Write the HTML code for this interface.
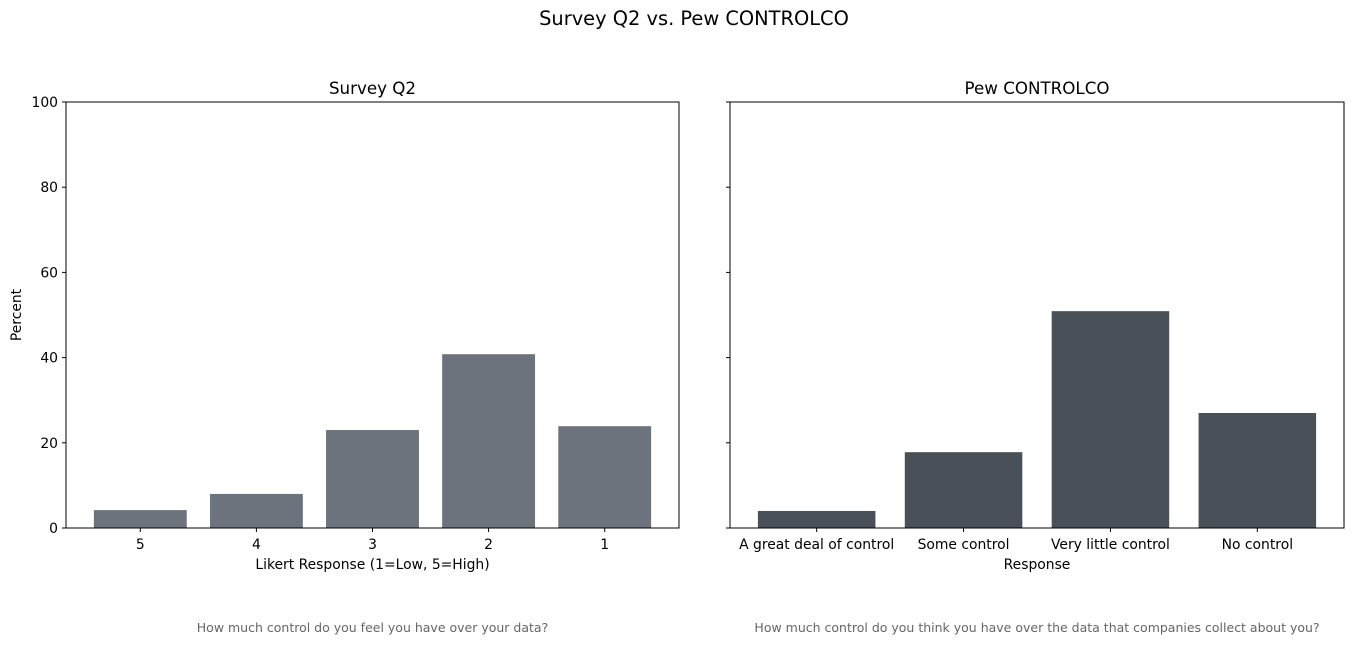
<!DOCTYPE html>
<html><head><meta charset="utf-8"><style>
body{margin:0;background:#fff;width:1353px;height:645px;overflow:hidden}
svg text{font-family:"DejaVu Sans","Liberation Sans",sans-serif}
</style></head><body>
<svg id="c" width="1353" height="645">
<text x="694" y="25" font-size="19.4" text-anchor="middle">Survey Q2 vs. Pew CONTROLCO</text>
</svg>
<script>
const leftCats=["5","4","3","2","1"];
const leftVals=[4.2,8.0,23.0,40.8,23.9];
const rightCats=["A great deal of control","Some control","Very little control","No control"];
const rightVals=[4.0,17.8,50.9,27.0];
const yTicks=[0,20,40,60,80,100];
const svg=document.getElementById('c');
const NS="http://www.w3.org/2000/svg";
function mk(tag,attrs,parent){const e=document.createElementNS(NS,tag);for(const k in attrs)e.setAttribute(k,attrs[k]);(parent||svg).appendChild(e);return e;}
const yTop=102,yBot=528;
function y(v){return yBot-(v/100)*(yBot-yTop);}
function panel(x0,x1,cats,vals,color,title,xlabel,note,showY,name){
  const g=mk('g',{});
  
  
  const n=cats.length, span=(n-1+0.8)*1.1, ppu=(x1-x0)/span;
  const xc=i=>x0+(0.4+0.05*(n-1+0.8)+i)*ppu;
  vals.forEach((v,i)=>{
    const r=mk('rect',{x:xc(i)-0.4*ppu,y:y(v),width:0.8*ppu,height:yBot-y(v),fill:color},g);
    
    
    mk('line',{x1:xc(i),x2:xc(i),y1:yBot,y2:yBot+4,stroke:'#000'},g);
    const t=mk('text',{x:xc(i),y:yBot+21,'font-size':13.9,'text-anchor':'middle'},g);t.textContent=cats[i];
    
    
  });
  yTicks.forEach(v=>{
    mk('line',{x1:x0-4,x2:x0,y1:y(v),y2:y(v),stroke:'#000'},g);
    if(showY){const t=mk('text',{x:x0-8,y:y(v)+5,'font-size':13.9,'text-anchor':'end'},g);t.textContent=v;
    
    }
  });
  const fr=mk('rect',{x:x0,y:yTop,width:x1-x0,height:yBot-yTop,fill:'none',stroke:'#000','stroke-width':1},g);
  
  
  const cx=(x0+x1)/2;
  let t=mk('text',{x:cx,y:94,'font-size':16.7,'text-anchor':'middle'},g);t.textContent=title;
  
  
  t=mk('text',{x:cx,y:569,'font-size':13.9,'text-anchor':'middle'},g);t.textContent=xlabel;
  
  
  t=mk('text',{x:cx,y:632,'font-size':12.5,'text-anchor':'middle',fill:'#666'},g);t.textContent=note;
  
  
}
panel(66,679,leftCats,leftVals,'#6c737d','Survey Q2','Likert Response (1=Low, 5=High)','How much control do you feel you have over your data?',true,'survey-q2-panel');
panel(730,1344,rightCats,rightVals,'#495057','Pew CONTROLCO','Response','How much control do you think you have over the data that companies collect about you?',false,'pew-panel');
const yl=mk('text',{x:21,y:315,'font-size':13.9,'text-anchor':'middle',transform:'rotate(-90 21 315)'});
yl.textContent='Percent';


</script>
</body></html>
